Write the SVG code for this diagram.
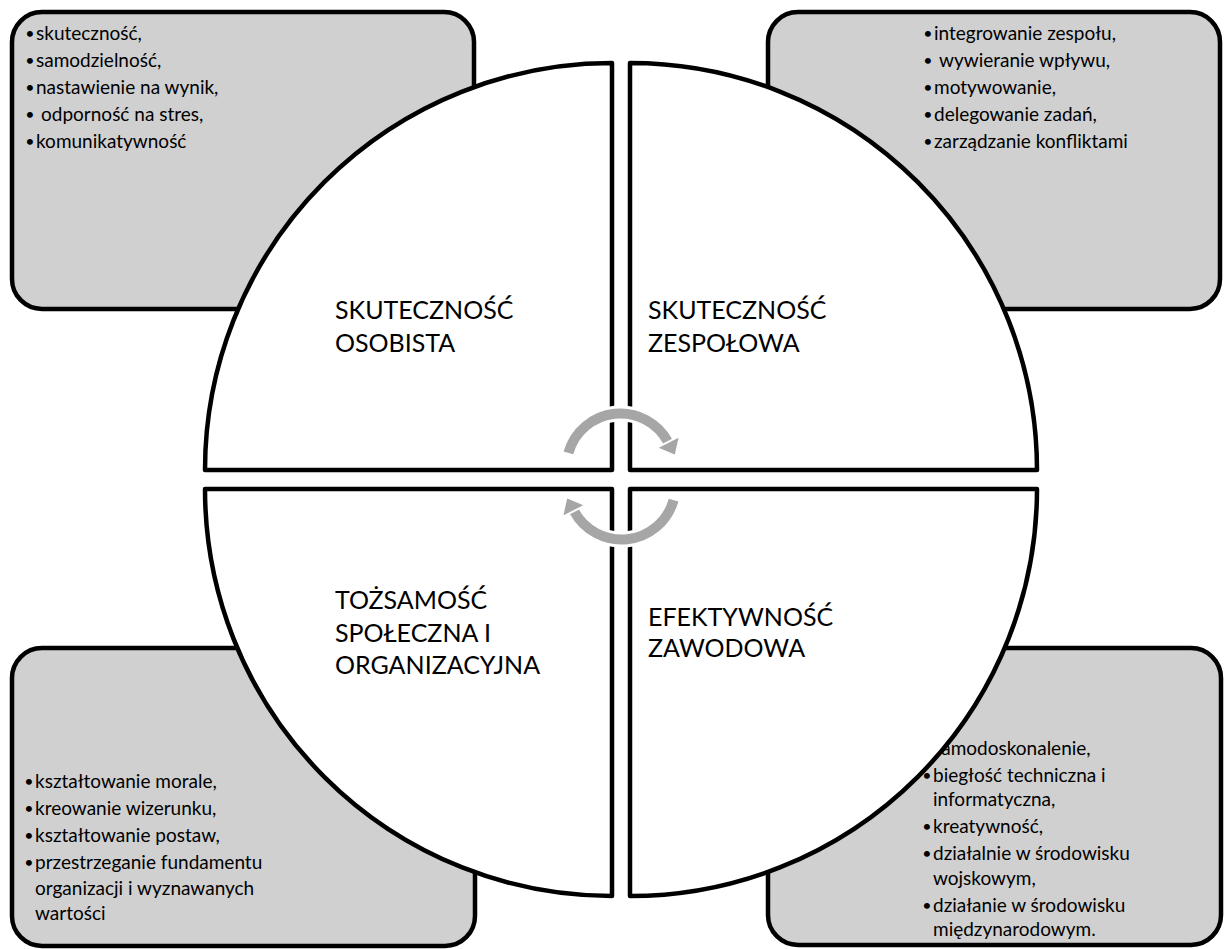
<svg xmlns="http://www.w3.org/2000/svg" width="1224" height="949" viewBox="0 0 1224 949">
  <style>
    .box { fill: #d0d0d0; stroke: #000; stroke-width: 4.5; }
    .piece { fill: #fff; stroke: #000; stroke-width: 4.5; stroke-linejoin: round; }
    .item { font-family: Lato, "Liberation Sans", sans-serif; font-size: 19px; fill: #000; }
    .dot { font-family: Lato, "Liberation Sans", sans-serif; font-size: 16px; fill: #000; text-anchor: middle; }
    .head { font-family: Lato, "Liberation Sans", sans-serif; font-size: 25px; fill: #000; }
    .arc-halo { fill: none; stroke: #fff; stroke-width: 16; }
    .arc { fill: none; stroke: #a6a6a6; stroke-width: 10; }
    .tip { fill: #a6a6a6; stroke: #fff; stroke-width: 2; stroke-linejoin: round; }
  </style>
  <defs>
    <!-- one curved arrow; the second is the same shape turned half a turn -->
    <g id="cycle-arrow">
      <path class="arc-halo" d="M568.4,452.9 A54,54 0 0 1 668.2,442.3"/>
      <path class="arc" d="M568.4,452.9 A54,54 0 0 1 668.2,442.3"/>
      <polygon class="tip" points="680,435.8 656.5,447.8 675.5,456"/>
    </g>
  </defs>

  <!-- corner panels -->
  <g id="box-personal">
    <rect class="box" x="12" y="12" width="462" height="297" rx="30"/>
    <text class="dot" x="30" y="39">•</text><text class="item" x="36" y="40">skuteczność,</text>
    <text class="dot" x="30" y="66">•</text><text class="item" x="36" y="67">samodzielność,</text>
    <text class="dot" x="30" y="93">•</text><text class="item" x="36" y="94">nastawienie na wynik,</text>
    <text class="dot" x="30" y="120">•</text><text class="item" x="41" y="121">odporność na stres,</text>
    <text class="dot" x="30" y="147">•</text><text class="item" x="36" y="148">komunikatywność</text>
  </g>
  <g id="box-team">
    <rect class="box" x="768" y="12" width="452" height="297" rx="30"/>
    <text class="dot" x="928" y="39">•</text><text class="item" x="934" y="40">integrowanie zespołu,</text>
    <text class="dot" x="928" y="66">•</text><text class="item" x="939" y="67">wywieranie wpływu,</text>
    <text class="dot" x="928" y="93">•</text><text class="item" x="934" y="94">motywowanie,</text>
    <text class="dot" x="928" y="120">•</text><text class="item" x="934" y="121">delegowanie zadań,</text>
    <text class="dot" x="928" y="147">•</text><text class="item" x="934" y="148">zarządzanie konfliktami</text>
  </g>
  <g id="box-identity">
    <rect class="box" x="12" y="648" width="463" height="298" rx="30"/>
    <text class="dot" x="29" y="787">•</text><text class="item" x="35" y="788">kształtowanie morale,</text>
    <text class="dot" x="29" y="814">•</text><text class="item" x="35" y="815">kreowanie wizerunku,</text>
    <text class="dot" x="29" y="841">•</text><text class="item" x="35" y="842">kształtowanie postaw,</text>
    <text class="dot" x="29" y="868">•</text><text class="item" x="35" y="869">przestrzeganie fundamentu</text>
    <text class="item" x="35" y="894.5">organizacji i wyznawanych</text>
    <text class="item" x="35" y="920">wartości</text>
  </g>
  <g id="box-professional">
    <rect class="box" x="768" y="648" width="453" height="297" rx="30"/>
    <text class="dot" x="927" y="754">•</text><text class="item" x="933" y="755">samodoskonalenie,</text>
    <text class="dot" x="927" y="781">•</text><text class="item" x="933" y="782">biegłość techniczna i</text>
    <text class="item" x="933" y="806">informatyczna,</text>
    <text class="dot" x="927" y="832">•</text><text class="item" x="933" y="833">kreatywność,</text>
    <text class="dot" x="927" y="859">•</text><text class="item" x="933" y="860">działalnie w środowisku</text>
    <text class="item" x="933" y="885">wojskowym,</text>
    <text class="dot" x="927" y="911">•</text><text class="item" x="933" y="912">działanie w środowisku</text>
    <text class="item" x="933" y="936">międzynarodowym.</text>
  </g>

  <!-- quarter circle sectors -->
  <g id="sector-personal">
    <path class="piece" d="M612,470 L205,470 A407,407 0 0 1 612,63 Z"/>
    <text class="head" x="335" y="319">SKUTECZNOŚĆ</text>
    <text class="head" x="335" y="351.5">OSOBISTA</text>
  </g>
  <g id="sector-team">
    <path class="piece" d="M630,470 L630,63 A407,407 0 0 1 1037,470 Z"/>
    <text class="head" x="648" y="319">SKUTECZNOŚĆ</text>
    <text class="head" x="648" y="351.5">ZESPOŁOWA</text>
  </g>
  <g id="sector-identity">
    <path class="piece" d="M612,489 L612,896 A407,407 0 0 1 205,489 Z"/>
    <text class="head" x="335" y="609">TOŻSAMOŚĆ</text>
    <text class="head" x="335" y="641.5">SPOŁECZNA I</text>
    <text class="head" x="335" y="674">ORGANIZACYJNA</text>
  </g>
  <g id="sector-professional">
    <path class="piece" d="M630,489 L1037,489 A407,407 0 0 1 630,896 Z"/>
    <text class="head" x="648" y="626">EFEKTYWNOŚĆ</text>
    <text class="head" x="648" y="657">ZAWODOWA</text>
  </g>

  <!-- circular arrows -->
  <g id="connectors">
    <use href="#cycle-arrow"/>
    <use href="#cycle-arrow" transform="rotate(180 621 476.5)"/>
  </g>
</svg>
